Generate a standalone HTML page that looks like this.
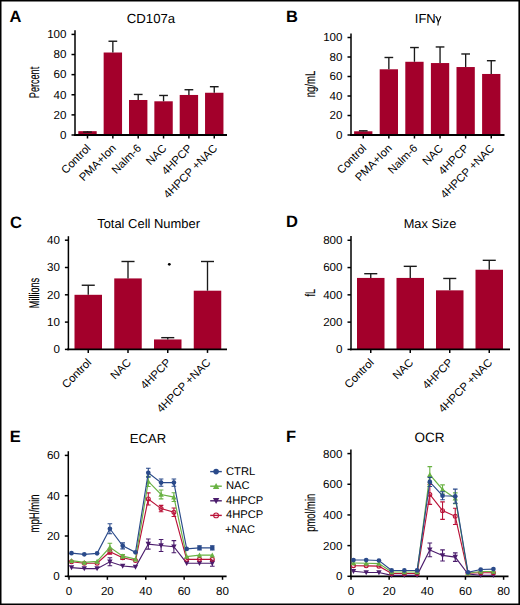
<!DOCTYPE html>
<html><head><meta charset="utf-8"><style>
html,body{margin:0;padding:0;background:#fff;}
body{width:520px;height:605px;position:relative;overflow:hidden;font-family:"Liberation Sans", sans-serif;}
svg text{font-family:"Liberation Sans", sans-serif;fill:#000;text-rendering:geometricPrecision;}
</style></head><body>
<svg width="520" height="605" viewBox="0 0 520 605" style="position:absolute;left:0;top:0">
<rect x="0" y="0" width="520" height="605" fill="#fff"/>
<text x="9.5" y="22.0" font-size="16.5" text-anchor="start" font-weight="bold" >A</text>
<text x="151" y="22.6" font-size="13.2" text-anchor="middle" font-weight="normal" >CD107a</text>
<line x1="75" y1="30.2" x2="75" y2="135.8" stroke="#000" stroke-width="1.5" />
<line x1="71.5" y1="135.0" x2="75" y2="135.0" stroke="#000" stroke-width="1.5" />
<text x="66.5" y="138.75" font-size="11.6" text-anchor="end" font-weight="normal" >0</text>
<line x1="71.5" y1="114.88" x2="75" y2="114.88" stroke="#000" stroke-width="1.5" />
<text x="66.5" y="118.63" font-size="11.6" text-anchor="end" font-weight="normal" >20</text>
<line x1="71.5" y1="94.75999999999999" x2="75" y2="94.75999999999999" stroke="#000" stroke-width="1.5" />
<text x="66.5" y="98.50999999999999" font-size="11.6" text-anchor="end" font-weight="normal" >40</text>
<line x1="71.5" y1="74.64" x2="75" y2="74.64" stroke="#000" stroke-width="1.5" />
<text x="66.5" y="78.39" font-size="11.6" text-anchor="end" font-weight="normal" >60</text>
<line x1="71.5" y1="54.519999999999996" x2="75" y2="54.519999999999996" stroke="#000" stroke-width="1.5" />
<text x="66.5" y="58.269999999999996" font-size="11.6" text-anchor="end" font-weight="normal" >80</text>
<line x1="71.5" y1="34.400000000000006" x2="75" y2="34.400000000000006" stroke="#000" stroke-width="1.5" />
<text x="66.5" y="38.150000000000006" font-size="11.6" text-anchor="end" font-weight="normal" >100</text>
<text transform="translate(39.3,82.5) rotate(-90) scale(0.65,1)" font-size="14" text-anchor="middle" stroke="#000" stroke-width="0.15">Percent</text>
<rect x="78.30" y="131.18" width="18.40" height="3.82" fill="#A3002B"/>
<line x1="87.5" y1="132.0826" x2="87.5" y2="131.1772" stroke="#1a1a1a" stroke-width="1.35" />
<line x1="83.13" y1="132.0826" x2="91.87" y2="132.0826" stroke="#1a1a1a" stroke-width="1.4" />
<rect x="103.65" y="52.51" width="18.40" height="82.49" fill="#A3002B"/>
<line x1="112.85" y1="41.24079999999999" x2="112.85" y2="52.507999999999996" stroke="#1a1a1a" stroke-width="1.35" />
<line x1="108.47999999999999" y1="41.24079999999999" x2="117.22" y2="41.24079999999999" stroke="#1a1a1a" stroke-width="1.4" />
<rect x="129.00" y="99.99" width="18.40" height="35.01" fill="#A3002B"/>
<line x1="138.2" y1="94.4582" x2="138.2" y2="99.99119999999999" stroke="#1a1a1a" stroke-width="1.35" />
<line x1="133.82999999999998" y1="94.4582" x2="142.57" y2="94.4582" stroke="#1a1a1a" stroke-width="1.4" />
<rect x="154.35" y="101.30" width="18.40" height="33.70" fill="#A3002B"/>
<line x1="163.55" y1="95.4642" x2="163.55" y2="101.299" stroke="#1a1a1a" stroke-width="1.35" />
<line x1="159.18" y1="95.4642" x2="167.92000000000002" y2="95.4642" stroke="#1a1a1a" stroke-width="1.4" />
<rect x="179.70" y="94.96" width="18.40" height="40.04" fill="#A3002B"/>
<line x1="188.9" y1="89.72999999999999" x2="188.9" y2="94.9612" stroke="#1a1a1a" stroke-width="1.35" />
<line x1="184.53" y1="89.72999999999999" x2="193.27" y2="89.72999999999999" stroke="#1a1a1a" stroke-width="1.4" />
<rect x="205.05" y="92.75" width="18.40" height="42.25" fill="#A3002B"/>
<line x1="214.25" y1="86.712" x2="214.25" y2="92.74799999999999" stroke="#1a1a1a" stroke-width="1.35" />
<line x1="209.88" y1="86.712" x2="218.62" y2="86.712" stroke="#1a1a1a" stroke-width="1.4" />
<line x1="74" y1="135.0" x2="227" y2="135.0" stroke="#000" stroke-width="1.8" />
<line x1="87.5" y1="135.0" x2="87.5" y2="138.5" stroke="#000" stroke-width="1.5" />
<text transform="translate(86.20,143.80) rotate(-45)" font-size="11.25" text-anchor="end" dominant-baseline="hanging">Control</text>
<line x1="112.85" y1="135.0" x2="112.85" y2="138.5" stroke="#000" stroke-width="1.5" />
<text transform="translate(111.55,143.80) rotate(-45)" font-size="11.25" text-anchor="end" dominant-baseline="hanging">PMA+Ion</text>
<line x1="138.2" y1="135.0" x2="138.2" y2="138.5" stroke="#000" stroke-width="1.5" />
<text transform="translate(136.90,143.80) rotate(-45)" font-size="11.25" text-anchor="end" dominant-baseline="hanging">Nalm-6</text>
<line x1="163.55" y1="135.0" x2="163.55" y2="138.5" stroke="#000" stroke-width="1.5" />
<text transform="translate(162.25,143.80) rotate(-45)" font-size="11.25" text-anchor="end" dominant-baseline="hanging">NAC</text>
<line x1="188.9" y1="135.0" x2="188.9" y2="138.5" stroke="#000" stroke-width="1.5" />
<text transform="translate(187.60,143.80) rotate(-45)" font-size="11.25" text-anchor="end" dominant-baseline="hanging">4HPCP</text>
<line x1="214.25" y1="135.0" x2="214.25" y2="138.5" stroke="#000" stroke-width="1.5" />
<text transform="translate(212.95,143.80) rotate(-45)" font-size="11.25" text-anchor="end" dominant-baseline="hanging">4HPCP +NAC</text>
<text x="286" y="21.9" font-size="16.5" text-anchor="start" font-weight="bold" >B</text>
<text x="414.8" y="22.6" font-size="13.0" text-anchor="start" font-weight="normal" >IFN</text>
<path d="M435.4,16.7C436.2,16.4 436.8,17.4 437.3,19L438.3,22.2M440.9,16.3L438.3,22.2L437.9,25.5" stroke="#000" stroke-width="1.05" fill="none"/>
<line x1="351" y1="33.5" x2="351" y2="135.8" stroke="#000" stroke-width="1.5" />
<line x1="347.5" y1="135.0" x2="351" y2="135.0" stroke="#000" stroke-width="1.5" />
<text x="342.5" y="138.75" font-size="11.6" text-anchor="end" font-weight="normal" >0</text>
<line x1="347.5" y1="115.5" x2="351" y2="115.5" stroke="#000" stroke-width="1.5" />
<text x="342.5" y="119.25" font-size="11.6" text-anchor="end" font-weight="normal" >20</text>
<line x1="347.5" y1="96.0" x2="351" y2="96.0" stroke="#000" stroke-width="1.5" />
<text x="342.5" y="99.75" font-size="11.6" text-anchor="end" font-weight="normal" >40</text>
<line x1="347.5" y1="76.5" x2="351" y2="76.5" stroke="#000" stroke-width="1.5" />
<text x="342.5" y="80.25" font-size="11.6" text-anchor="end" font-weight="normal" >60</text>
<line x1="347.5" y1="57.0" x2="351" y2="57.0" stroke="#000" stroke-width="1.5" />
<text x="342.5" y="60.75" font-size="11.6" text-anchor="end" font-weight="normal" >80</text>
<line x1="347.5" y1="37.5" x2="351" y2="37.5" stroke="#000" stroke-width="1.5" />
<text x="342.5" y="41.25" font-size="11.6" text-anchor="end" font-weight="normal" >100</text>
<text transform="translate(315.3,84) rotate(-90) scale(0.686,1)" font-size="14" text-anchor="middle" stroke="#000" stroke-width="0.15">ng/mL</text>
<rect x="354.10" y="131.29" width="18.30" height="3.71" fill="#A3002B"/>
<line x1="363.25" y1="130.8075" x2="363.25" y2="131.295" stroke="#1a1a1a" stroke-width="1.35" />
<line x1="358.90375" y1="130.8075" x2="367.59625" y2="130.8075" stroke="#1a1a1a" stroke-width="1.4" />
<rect x="379.70" y="69.28" width="18.30" height="65.72" fill="#A3002B"/>
<line x1="388.85" y1="57.4875" x2="388.85" y2="69.285" stroke="#1a1a1a" stroke-width="1.35" />
<line x1="384.50375" y1="57.4875" x2="393.19625" y2="57.4875" stroke="#1a1a1a" stroke-width="1.4" />
<rect x="405.30" y="61.78" width="18.30" height="73.22" fill="#A3002B"/>
<line x1="414.45" y1="47.542500000000004" x2="414.45" y2="61.7775" stroke="#1a1a1a" stroke-width="1.35" />
<line x1="410.10375" y1="47.542500000000004" x2="418.79625" y2="47.542500000000004" stroke="#1a1a1a" stroke-width="1.4" />
<rect x="430.90" y="63.05" width="18.30" height="71.95" fill="#A3002B"/>
<line x1="440.05" y1="46.95750000000001" x2="440.05" y2="63.045" stroke="#1a1a1a" stroke-width="1.35" />
<line x1="435.70375" y1="46.95750000000001" x2="444.39625" y2="46.95750000000001" stroke="#1a1a1a" stroke-width="1.4" />
<rect x="456.50" y="67.04" width="18.30" height="67.96" fill="#A3002B"/>
<line x1="465.65" y1="53.977500000000006" x2="465.65" y2="67.0425" stroke="#1a1a1a" stroke-width="1.35" />
<line x1="461.30375" y1="53.977500000000006" x2="469.99625" y2="53.977500000000006" stroke="#1a1a1a" stroke-width="1.4" />
<rect x="482.10" y="73.97" width="18.30" height="61.03" fill="#A3002B"/>
<line x1="491.25" y1="60.705" x2="491.25" y2="73.965" stroke="#1a1a1a" stroke-width="1.35" />
<line x1="486.90375" y1="60.705" x2="495.59625" y2="60.705" stroke="#1a1a1a" stroke-width="1.4" />
<line x1="350" y1="135.0" x2="504.5" y2="135.0" stroke="#000" stroke-width="1.8" />
<line x1="363.25" y1="135.0" x2="363.25" y2="138.5" stroke="#000" stroke-width="1.5" />
<text transform="translate(361.95,143.80) rotate(-45)" font-size="11.25" text-anchor="end" dominant-baseline="hanging">Control</text>
<line x1="388.85" y1="135.0" x2="388.85" y2="138.5" stroke="#000" stroke-width="1.5" />
<text transform="translate(387.55,143.80) rotate(-45)" font-size="11.25" text-anchor="end" dominant-baseline="hanging">PMA+Ion</text>
<line x1="414.45" y1="135.0" x2="414.45" y2="138.5" stroke="#000" stroke-width="1.5" />
<text transform="translate(413.15,143.80) rotate(-45)" font-size="11.25" text-anchor="end" dominant-baseline="hanging">Nalm-6</text>
<line x1="440.05" y1="135.0" x2="440.05" y2="138.5" stroke="#000" stroke-width="1.5" />
<text transform="translate(438.75,143.80) rotate(-45)" font-size="11.25" text-anchor="end" dominant-baseline="hanging">NAC</text>
<line x1="465.65" y1="135.0" x2="465.65" y2="138.5" stroke="#000" stroke-width="1.5" />
<text transform="translate(464.35,143.80) rotate(-45)" font-size="11.25" text-anchor="end" dominant-baseline="hanging">4HPCP</text>
<line x1="491.25" y1="135.0" x2="491.25" y2="138.5" stroke="#000" stroke-width="1.5" />
<text transform="translate(489.95,143.80) rotate(-45)" font-size="11.25" text-anchor="end" dominant-baseline="hanging">4HPCP +NAC</text>
<text x="10" y="228.0" font-size="16.5" text-anchor="start" font-weight="bold" >C</text>
<text x="148.6" y="228.2" font-size="12.95" text-anchor="middle" font-weight="normal" >Total Cell Number</text>
<line x1="68.4" y1="236.2" x2="68.4" y2="350.2" stroke="#000" stroke-width="1.5" />
<line x1="64.9" y1="349.4" x2="68.4" y2="349.4" stroke="#000" stroke-width="1.5" />
<text x="59.900000000000006" y="353.15" font-size="11.6" text-anchor="end" font-weight="normal" >0</text>
<line x1="64.9" y1="322.09999999999997" x2="68.4" y2="322.09999999999997" stroke="#000" stroke-width="1.5" />
<text x="59.900000000000006" y="325.84999999999997" font-size="11.6" text-anchor="end" font-weight="normal" >10</text>
<line x1="64.9" y1="294.79999999999995" x2="68.4" y2="294.79999999999995" stroke="#000" stroke-width="1.5" />
<text x="59.900000000000006" y="298.54999999999995" font-size="11.6" text-anchor="end" font-weight="normal" >20</text>
<line x1="64.9" y1="267.5" x2="68.4" y2="267.5" stroke="#000" stroke-width="1.5" />
<text x="59.900000000000006" y="271.25" font-size="11.6" text-anchor="end" font-weight="normal" >30</text>
<line x1="64.9" y1="240.2" x2="68.4" y2="240.2" stroke="#000" stroke-width="1.5" />
<text x="59.900000000000006" y="243.95" font-size="11.6" text-anchor="end" font-weight="normal" >40</text>
<text transform="translate(39.3,293) rotate(-90) scale(0.65,1)" font-size="14" text-anchor="middle" stroke="#000" stroke-width="0.15">Millions</text>
<rect x="74.50" y="294.80" width="27.50" height="54.60" fill="#A3002B"/>
<line x1="88.25" y1="285.245" x2="88.25" y2="294.79999999999995" stroke="#1a1a1a" stroke-width="1.35" />
<line x1="81.71875" y1="285.245" x2="94.78125" y2="285.245" stroke="#1a1a1a" stroke-width="1.4" />
<rect x="114.25" y="278.42" width="27.50" height="70.98" fill="#A3002B"/>
<line x1="128.0" y1="261.49399999999997" x2="128.0" y2="278.41999999999996" stroke="#1a1a1a" stroke-width="1.35" />
<line x1="121.46875" y1="261.49399999999997" x2="134.53125" y2="261.49399999999997" stroke="#1a1a1a" stroke-width="1.4" />
<rect x="154.00" y="339.44" width="27.50" height="9.96" fill="#A3002B"/>
<line x1="167.75" y1="337.661" x2="167.75" y2="339.4355" stroke="#1a1a1a" stroke-width="1.35" />
<line x1="161.21875" y1="337.661" x2="174.28125" y2="337.661" stroke="#1a1a1a" stroke-width="1.4" />
<rect x="193.75" y="290.70" width="27.50" height="58.69" fill="#A3002B"/>
<line x1="207.5" y1="261.49399999999997" x2="207.5" y2="290.705" stroke="#1a1a1a" stroke-width="1.35" />
<line x1="200.96875" y1="261.49399999999997" x2="214.03125" y2="261.49399999999997" stroke="#1a1a1a" stroke-width="1.4" />
<line x1="67" y1="349.4" x2="227" y2="349.4" stroke="#000" stroke-width="1.8" />
<line x1="88.25" y1="349.4" x2="88.25" y2="352.9" stroke="#000" stroke-width="1.5" />
<text transform="translate(86.95,358.20) rotate(-45)" font-size="11.25" text-anchor="end" dominant-baseline="hanging">Control</text>
<line x1="128.0" y1="349.4" x2="128.0" y2="352.9" stroke="#000" stroke-width="1.5" />
<text transform="translate(126.70,358.20) rotate(-45)" font-size="11.25" text-anchor="end" dominant-baseline="hanging">NAC</text>
<line x1="167.75" y1="349.4" x2="167.75" y2="352.9" stroke="#000" stroke-width="1.5" />
<text transform="translate(166.45,358.20) rotate(-45)" font-size="11.25" text-anchor="end" dominant-baseline="hanging">4HPCP</text>
<line x1="207.5" y1="349.4" x2="207.5" y2="352.9" stroke="#000" stroke-width="1.5" />
<text transform="translate(206.20,358.20) rotate(-45)" font-size="11.25" text-anchor="end" dominant-baseline="hanging">4HPCP +NAC</text>
<circle cx="169.3" cy="264.3" r="1.4" fill="#000"/>
<text x="286" y="227.4" font-size="16.5" text-anchor="start" font-weight="bold" >D</text>
<text x="430" y="228.2" font-size="12.8" text-anchor="middle" font-weight="normal" >Max Size</text>
<line x1="351" y1="236" x2="351" y2="350.2" stroke="#000" stroke-width="1.5" />
<line x1="347.5" y1="349.4" x2="351" y2="349.4" stroke="#000" stroke-width="1.5" />
<text x="342.5" y="353.15" font-size="11.6" text-anchor="end" font-weight="normal" >0</text>
<line x1="347.5" y1="322.12" x2="351" y2="322.12" stroke="#000" stroke-width="1.5" />
<text x="342.5" y="325.87" font-size="11.6" text-anchor="end" font-weight="normal" >200</text>
<line x1="347.5" y1="294.84" x2="351" y2="294.84" stroke="#000" stroke-width="1.5" />
<text x="342.5" y="298.59" font-size="11.6" text-anchor="end" font-weight="normal" >400</text>
<line x1="347.5" y1="267.56" x2="351" y2="267.56" stroke="#000" stroke-width="1.5" />
<text x="342.5" y="271.31" font-size="11.6" text-anchor="end" font-weight="normal" >600</text>
<line x1="347.5" y1="240.27999999999997" x2="351" y2="240.27999999999997" stroke="#000" stroke-width="1.5" />
<text x="342.5" y="244.02999999999997" font-size="11.6" text-anchor="end" font-weight="normal" >800</text>
<text transform="translate(314.9,292.8) rotate(-90) scale(0.64,1)" font-size="14" text-anchor="middle" stroke="#000" stroke-width="0.15">fL</text>
<rect x="357.00" y="277.93" width="27.50" height="71.47" fill="#A3002B"/>
<line x1="370.75" y1="273.698" x2="370.75" y2="277.9264" stroke="#1a1a1a" stroke-width="1.35" />
<line x1="364.21875" y1="273.698" x2="377.28125" y2="273.698" stroke="#1a1a1a" stroke-width="1.4" />
<rect x="396.50" y="277.93" width="27.50" height="71.47" fill="#A3002B"/>
<line x1="410.25" y1="266.3324" x2="410.25" y2="277.9264" stroke="#1a1a1a" stroke-width="1.35" />
<line x1="403.71875" y1="266.3324" x2="416.78125" y2="266.3324" stroke="#1a1a1a" stroke-width="1.4" />
<rect x="436.00" y="290.34" width="27.50" height="59.06" fill="#A3002B"/>
<line x1="449.75" y1="278.472" x2="449.75" y2="290.3388" stroke="#1a1a1a" stroke-width="1.35" />
<line x1="443.21875" y1="278.472" x2="456.28125" y2="278.472" stroke="#1a1a1a" stroke-width="1.4" />
<rect x="475.50" y="269.74" width="27.50" height="79.66" fill="#A3002B"/>
<line x1="489.25" y1="260.33079999999995" x2="489.25" y2="269.7424" stroke="#1a1a1a" stroke-width="1.35" />
<line x1="482.71875" y1="260.33079999999995" x2="495.78125" y2="260.33079999999995" stroke="#1a1a1a" stroke-width="1.4" />
<line x1="350" y1="349.4" x2="510" y2="349.4" stroke="#000" stroke-width="1.8" />
<line x1="370.75" y1="349.4" x2="370.75" y2="352.9" stroke="#000" stroke-width="1.5" />
<text transform="translate(369.45,358.20) rotate(-45)" font-size="11.25" text-anchor="end" dominant-baseline="hanging">Control</text>
<line x1="410.25" y1="349.4" x2="410.25" y2="352.9" stroke="#000" stroke-width="1.5" />
<text transform="translate(408.95,358.20) rotate(-45)" font-size="11.25" text-anchor="end" dominant-baseline="hanging">NAC</text>
<line x1="449.75" y1="349.4" x2="449.75" y2="352.9" stroke="#000" stroke-width="1.5" />
<text transform="translate(448.45,358.20) rotate(-45)" font-size="11.25" text-anchor="end" dominant-baseline="hanging">4HPCP</text>
<line x1="489.25" y1="349.4" x2="489.25" y2="352.9" stroke="#000" stroke-width="1.5" />
<text transform="translate(487.95,358.20) rotate(-45)" font-size="11.25" text-anchor="end" dominant-baseline="hanging">4HPCP +NAC</text>
<text x="9.8" y="442.1" font-size="16.5" text-anchor="start" font-weight="bold" >E</text>
<text x="148" y="442.8" font-size="13.1" text-anchor="middle" font-weight="normal" >ECAR</text>
<text transform="translate(39.1,513.4) rotate(-90) scale(0.68,1)" font-size="14" text-anchor="middle" stroke="#000" stroke-width="0.15">mpH/min</text>
<line x1="68.3" y1="451.2" x2="68.3" y2="577.0999999999999" stroke="#000" stroke-width="1.5" />
<line x1="64.8" y1="576.3" x2="68.3" y2="576.3" stroke="#000" stroke-width="1.5" />
<text x="59.8" y="580.3" font-size="11.6" text-anchor="end" font-weight="normal" >0</text>
<line x1="64.8" y1="536.0" x2="68.3" y2="536.0" stroke="#000" stroke-width="1.5" />
<text x="59.8" y="540.0" font-size="11.6" text-anchor="end" font-weight="normal" >20</text>
<line x1="64.8" y1="495.69999999999993" x2="68.3" y2="495.69999999999993" stroke="#000" stroke-width="1.5" />
<text x="59.8" y="499.69999999999993" font-size="11.6" text-anchor="end" font-weight="normal" >40</text>
<line x1="64.8" y1="455.4" x2="68.3" y2="455.4" stroke="#000" stroke-width="1.5" />
<text x="59.8" y="459.4" font-size="11.6" text-anchor="end" font-weight="normal" >60</text>
<line x1="67.3" y1="576.3" x2="226.6" y2="576.3" stroke="#000" stroke-width="1.8" />
<line x1="69.0" y1="576.3" x2="69.0" y2="579.8" stroke="#000" stroke-width="1.5" />
<text x="69.0" y="594.9" font-size="11.6" text-anchor="middle" font-weight="normal" >0</text>
<line x1="107.38" y1="576.3" x2="107.38" y2="579.8" stroke="#000" stroke-width="1.5" />
<text x="107.38" y="594.9" font-size="11.6" text-anchor="middle" font-weight="normal" >20</text>
<line x1="145.76" y1="576.3" x2="145.76" y2="579.8" stroke="#000" stroke-width="1.5" />
<text x="145.76" y="594.9" font-size="11.6" text-anchor="middle" font-weight="normal" >40</text>
<line x1="184.14" y1="576.3" x2="184.14" y2="579.8" stroke="#000" stroke-width="1.5" />
<text x="184.14" y="594.9" font-size="11.6" text-anchor="middle" font-weight="normal" >60</text>
<line x1="222.52" y1="576.3" x2="222.52" y2="579.8" stroke="#000" stroke-width="1.5" />
<text x="222.52" y="594.9" font-size="11.6" text-anchor="middle" font-weight="normal" >80</text>
<polyline points="71.49,567.64 84.29,568.64 97.09,568.64 109.89,561.79 122.69,566.02 135.49,567.03 148.29,544.06 161.09,545.47 173.89,546.68 186.69,563.20 199.49,563.20 212.29,563.20" fill="none" stroke="#4B1C6C" stroke-width="1.15"/>
<path d="M109.89,557.76V565.82M107.59,557.76H112.19M107.59,565.82H112.19" stroke="#4B1C6C" stroke-width="1.1" fill="none"/>
<path d="M148.29,539.02V549.10M145.99,539.02H150.59M145.99,549.10H150.59" stroke="#4B1C6C" stroke-width="1.1" fill="none"/>
<path d="M161.09,539.43V551.52M158.79,539.43H163.39M158.79,551.52H163.39" stroke="#4B1C6C" stroke-width="1.1" fill="none"/>
<path d="M173.89,540.63V552.72M171.59,540.63H176.19M171.59,552.72H176.19" stroke="#4B1C6C" stroke-width="1.1" fill="none"/>
<path d="M212.29,560.18V566.23M209.99,560.18H214.59M209.99,566.23H214.59" stroke="#4B1C6C" stroke-width="1.1" fill="none"/>
<path d="M71.49,570.34L74.20,565.34L68.79,565.34Z" fill="#4B1C6C"/>
<path d="M84.29,571.35L87.00,566.35L81.59,566.35Z" fill="#4B1C6C"/>
<path d="M97.09,571.35L99.80,566.35L94.39,566.35Z" fill="#4B1C6C"/>
<path d="M109.89,564.49L112.60,559.49L107.19,559.49Z" fill="#4B1C6C"/>
<path d="M122.69,568.73L125.40,563.73L119.99,563.73Z" fill="#4B1C6C"/>
<path d="M135.49,569.73L138.20,564.73L132.79,564.73Z" fill="#4B1C6C"/>
<path d="M148.29,546.76L151.00,541.76L145.59,541.76Z" fill="#4B1C6C"/>
<path d="M161.09,548.17L163.80,543.17L158.39,543.17Z" fill="#4B1C6C"/>
<path d="M173.89,549.38L176.60,544.38L171.19,544.38Z" fill="#4B1C6C"/>
<path d="M186.69,565.90L189.39,560.91L183.99,560.91Z" fill="#4B1C6C"/>
<path d="M199.49,565.90L202.19,560.91L196.79,560.91Z" fill="#4B1C6C"/>
<path d="M212.29,565.90L214.99,560.91L209.59,560.91Z" fill="#4B1C6C"/>
<polyline points="71.49,561.79 84.29,563.20 97.09,563.20 109.89,551.72 122.69,557.76 135.49,560.58 148.29,498.92 161.09,508.60 173.89,512.22 186.69,559.37 199.49,559.37 212.29,559.37" fill="none" stroke="#BA1238" stroke-width="1.15"/>
<path d="M109.89,549.30V554.13M107.59,549.30H112.19M107.59,554.13H112.19" stroke="#BA1238" stroke-width="1.1" fill="none"/>
<path d="M122.69,556.15V559.37M120.39,556.15H124.99M120.39,559.37H124.99" stroke="#BA1238" stroke-width="1.1" fill="none"/>
<path d="M148.29,492.88V504.97M145.99,492.88H150.59M145.99,504.97H150.59" stroke="#BA1238" stroke-width="1.1" fill="none"/>
<path d="M161.09,505.37V511.82M158.79,505.37H163.39M158.79,511.82H163.39" stroke="#BA1238" stroke-width="1.1" fill="none"/>
<path d="M173.89,507.99V516.45M171.59,507.99H176.19M171.59,516.45H176.19" stroke="#BA1238" stroke-width="1.1" fill="none"/>
<circle cx="71.49" cy="561.79" r="1.9500000000000002" fill="none" stroke="#BA1238" stroke-width="1.1"/>
<circle cx="84.29" cy="563.20" r="1.9500000000000002" fill="none" stroke="#BA1238" stroke-width="1.1"/>
<circle cx="97.09" cy="563.20" r="1.9500000000000002" fill="none" stroke="#BA1238" stroke-width="1.1"/>
<circle cx="109.89" cy="551.72" r="1.9500000000000002" fill="none" stroke="#BA1238" stroke-width="1.1"/>
<circle cx="122.69" cy="557.76" r="1.9500000000000002" fill="none" stroke="#BA1238" stroke-width="1.1"/>
<circle cx="135.49" cy="560.58" r="1.9500000000000002" fill="none" stroke="#BA1238" stroke-width="1.1"/>
<circle cx="148.29" cy="498.92" r="1.9500000000000002" fill="none" stroke="#BA1238" stroke-width="1.1"/>
<circle cx="161.09" cy="508.60" r="1.9500000000000002" fill="none" stroke="#BA1238" stroke-width="1.1"/>
<circle cx="173.89" cy="512.22" r="1.9500000000000002" fill="none" stroke="#BA1238" stroke-width="1.1"/>
<circle cx="186.69" cy="559.37" r="1.9500000000000002" fill="none" stroke="#BA1238" stroke-width="1.1"/>
<circle cx="199.49" cy="559.37" r="1.9500000000000002" fill="none" stroke="#BA1238" stroke-width="1.1"/>
<circle cx="212.29" cy="559.37" r="1.9500000000000002" fill="none" stroke="#BA1238" stroke-width="1.1"/>
<polyline points="71.49,560.58 84.29,562.40 97.09,561.39 109.89,547.28 122.69,556.15 135.49,559.17 148.29,481.39 161.09,494.49 173.89,497.11 186.69,556.55 199.49,555.14 212.29,555.14" fill="none" stroke="#69B243" stroke-width="1.15"/>
<path d="M109.89,543.25V551.31M107.59,543.25H112.19M107.59,551.31H112.19" stroke="#69B243" stroke-width="1.1" fill="none"/>
<path d="M122.69,554.54V557.76M120.39,554.54H124.99M120.39,557.76H124.99" stroke="#69B243" stroke-width="1.1" fill="none"/>
<path d="M148.29,476.36V486.43M145.99,476.36H150.59M145.99,486.43H150.59" stroke="#69B243" stroke-width="1.1" fill="none"/>
<path d="M161.09,490.06V498.92M158.79,490.06H163.39M158.79,498.92H163.39" stroke="#69B243" stroke-width="1.1" fill="none"/>
<path d="M173.89,492.68V501.54M171.59,492.68H176.19M171.59,501.54H176.19" stroke="#69B243" stroke-width="1.1" fill="none"/>
<path d="M71.49,557.88L74.20,562.88L68.79,562.88Z" fill="#69B243"/>
<path d="M84.29,559.69L87.00,564.69L81.59,564.69Z" fill="#69B243"/>
<path d="M97.09,558.69L99.80,563.69L94.39,563.69Z" fill="#69B243"/>
<path d="M109.89,544.58L112.60,549.58L107.19,549.58Z" fill="#69B243"/>
<path d="M122.69,553.45L125.40,558.45L119.99,558.45Z" fill="#69B243"/>
<path d="M135.49,556.47L138.20,561.47L132.79,561.47Z" fill="#69B243"/>
<path d="M148.29,478.69L151.00,483.69L145.59,483.69Z" fill="#69B243"/>
<path d="M161.09,491.79L163.80,496.79L158.39,496.79Z" fill="#69B243"/>
<path d="M173.89,494.41L176.60,499.41L171.19,499.41Z" fill="#69B243"/>
<path d="M186.69,553.85L189.39,558.85L183.99,558.85Z" fill="#69B243"/>
<path d="M199.49,552.44L202.19,557.44L196.79,557.44Z" fill="#69B243"/>
<path d="M212.29,552.44L214.99,557.44L209.59,557.44Z" fill="#69B243"/>
<polyline points="71.49,553.13 84.29,554.34 97.09,553.33 109.89,528.75 122.69,545.87 135.49,552.32 148.29,472.73 161.09,482.60 173.89,482.60 186.69,548.90 199.49,547.89 212.29,547.89" fill="none" stroke="#2A4A8A" stroke-width="1.15"/>
<path d="M109.89,523.71V533.78M107.59,523.71H112.19M107.59,533.78H112.19" stroke="#2A4A8A" stroke-width="1.1" fill="none"/>
<path d="M122.69,542.85V548.90M120.39,542.85H124.99M120.39,548.90H124.99" stroke="#2A4A8A" stroke-width="1.1" fill="none"/>
<path d="M148.29,468.30V477.16M145.99,468.30H150.59M145.99,477.16H150.59" stroke="#2A4A8A" stroke-width="1.1" fill="none"/>
<path d="M161.09,478.98V486.23M158.79,478.98H163.39M158.79,486.23H163.39" stroke="#2A4A8A" stroke-width="1.1" fill="none"/>
<path d="M173.89,478.98V486.23M171.59,478.98H176.19M171.59,486.23H176.19" stroke="#2A4A8A" stroke-width="1.1" fill="none"/>
<path d="M199.49,545.87V549.90M197.19,545.87H201.79M197.19,549.90H201.79" stroke="#2A4A8A" stroke-width="1.1" fill="none"/>
<path d="M212.29,545.87V549.90M209.99,545.87H214.59M209.99,549.90H214.59" stroke="#2A4A8A" stroke-width="1.1" fill="none"/>
<circle cx="71.49" cy="553.13" r="2.35" fill="#2A4A8A"/>
<circle cx="84.29" cy="554.34" r="2.35" fill="#2A4A8A"/>
<circle cx="97.09" cy="553.33" r="2.35" fill="#2A4A8A"/>
<circle cx="109.89" cy="528.75" r="2.35" fill="#2A4A8A"/>
<circle cx="122.69" cy="545.87" r="2.35" fill="#2A4A8A"/>
<circle cx="135.49" cy="552.32" r="2.35" fill="#2A4A8A"/>
<circle cx="148.29" cy="472.73" r="2.35" fill="#2A4A8A"/>
<circle cx="161.09" cy="482.60" r="2.35" fill="#2A4A8A"/>
<circle cx="173.89" cy="482.60" r="2.35" fill="#2A4A8A"/>
<circle cx="186.69" cy="548.90" r="2.35" fill="#2A4A8A"/>
<circle cx="199.49" cy="547.89" r="2.35" fill="#2A4A8A"/>
<circle cx="212.29" cy="547.89" r="2.35" fill="#2A4A8A"/>
<line x1="210.2" y1="471.6" x2="221.8" y2="471.6" stroke="#2A4A8A" stroke-width="1.4" />
<circle cx="216.10" cy="471.60" r="2.8" fill="#2A4A8A"/>
<text x="226" y="474.5" font-size="11.2" text-anchor="start" font-weight="normal" >CTRL</text>
<line x1="210.2" y1="486.20000000000005" x2="221.8" y2="486.20000000000005" stroke="#69B243" stroke-width="1.4" />
<path d="M216.10,482.98L219.32,488.94L212.88,488.94Z" fill="#69B243"/>
<text x="226" y="489.1" font-size="11.2" text-anchor="start" font-weight="normal" >NAC</text>
<line x1="210.2" y1="500.8" x2="221.8" y2="500.8" stroke="#4B1C6C" stroke-width="1.4" />
<path d="M216.10,504.02L219.32,498.06L212.88,498.06Z" fill="#4B1C6C"/>
<text x="226" y="503.7" font-size="11.2" text-anchor="start" font-weight="normal" >4HPCP</text>
<line x1="210.2" y1="515.4" x2="221.8" y2="515.4" stroke="#BA1238" stroke-width="1.4" />
<circle cx="216.10" cy="515.40" r="2.4" fill="none" stroke="#BA1238" stroke-width="1.1"/>
<text x="226" y="518.3" font-size="11.2" text-anchor="start" font-weight="normal" >4HPCP</text>
<text x="225" y="533.1" font-size="11.2" text-anchor="start" font-weight="normal" >+NAC</text>
<text x="286" y="442.1" font-size="16.5" text-anchor="start" font-weight="bold" >F</text>
<text x="429.5" y="441.5" font-size="13.5" text-anchor="middle" font-weight="normal" >OCR</text>
<text transform="translate(314.8,512.8) rotate(-90) scale(0.67,1)" font-size="14" text-anchor="middle" stroke="#000" stroke-width="0.15">pmol/min</text>
<line x1="350.9" y1="449.5" x2="350.9" y2="577.0999999999999" stroke="#000" stroke-width="1.5" />
<line x1="347.4" y1="576.3" x2="350.9" y2="576.3" stroke="#000" stroke-width="1.5" />
<text x="342.4" y="580.3" font-size="11.6" text-anchor="end" font-weight="normal" >0</text>
<line x1="347.4" y1="545.62" x2="350.9" y2="545.62" stroke="#000" stroke-width="1.5" />
<text x="342.4" y="549.62" font-size="11.6" text-anchor="end" font-weight="normal" >200</text>
<line x1="347.4" y1="514.9399999999999" x2="350.9" y2="514.9399999999999" stroke="#000" stroke-width="1.5" />
<text x="342.4" y="518.9399999999999" font-size="11.6" text-anchor="end" font-weight="normal" >400</text>
<line x1="347.4" y1="484.25999999999993" x2="350.9" y2="484.25999999999993" stroke="#000" stroke-width="1.5" />
<text x="342.4" y="488.25999999999993" font-size="11.6" text-anchor="end" font-weight="normal" >600</text>
<line x1="347.4" y1="453.5799999999999" x2="350.9" y2="453.5799999999999" stroke="#000" stroke-width="1.5" />
<text x="342.4" y="457.5799999999999" font-size="11.6" text-anchor="end" font-weight="normal" >800</text>
<line x1="349.9" y1="576.3" x2="508.5" y2="576.3" stroke="#000" stroke-width="1.8" />
<line x1="351.0" y1="576.3" x2="351.0" y2="579.8" stroke="#000" stroke-width="1.5" />
<text x="351.0" y="594.9" font-size="11.6" text-anchor="middle" font-weight="normal" >0</text>
<line x1="389.15" y1="576.3" x2="389.15" y2="579.8" stroke="#000" stroke-width="1.5" />
<text x="389.15" y="594.9" font-size="11.6" text-anchor="middle" font-weight="normal" >20</text>
<line x1="427.3" y1="576.3" x2="427.3" y2="579.8" stroke="#000" stroke-width="1.5" />
<text x="427.3" y="594.9" font-size="11.6" text-anchor="middle" font-weight="normal" >40</text>
<line x1="465.45" y1="576.3" x2="465.45" y2="579.8" stroke="#000" stroke-width="1.5" />
<text x="465.45" y="594.9" font-size="11.6" text-anchor="middle" font-weight="normal" >60</text>
<line x1="503.6" y1="576.3" x2="503.6" y2="579.8" stroke="#000" stroke-width="1.5" />
<text x="503.6" y="594.9" font-size="11.6" text-anchor="middle" font-weight="normal" >80</text>
<polyline points="353.48,571.24 366.20,572.46 378.93,572.46 391.65,575.38 404.37,575.38 417.09,575.38 429.82,549.92 442.54,555.44 455.26,557.12 467.99,574.00 480.71,575.23 493.43,575.23" fill="none" stroke="#4B1C6C" stroke-width="1.15"/>
<path d="M429.82,543.01V556.82M427.52,543.01H432.12M427.52,556.82H432.12" stroke="#4B1C6C" stroke-width="1.1" fill="none"/>
<path d="M442.54,549.92V560.96M440.24,549.92H444.84M440.24,560.96H444.84" stroke="#4B1C6C" stroke-width="1.1" fill="none"/>
<path d="M455.26,552.83V561.42M452.96,552.83H457.56M452.96,561.42H457.56" stroke="#4B1C6C" stroke-width="1.1" fill="none"/>
<path d="M353.48,573.94L356.18,568.94L350.78,568.94Z" fill="#4B1C6C"/>
<path d="M366.20,575.17L368.91,570.17L363.50,570.17Z" fill="#4B1C6C"/>
<path d="M378.93,575.17L381.63,570.17L376.22,570.17Z" fill="#4B1C6C"/>
<path d="M391.65,578.08L394.35,573.08L388.95,573.08Z" fill="#4B1C6C"/>
<path d="M404.37,578.08L407.07,573.08L401.67,573.08Z" fill="#4B1C6C"/>
<path d="M417.09,578.08L419.80,573.08L414.39,573.08Z" fill="#4B1C6C"/>
<path d="M429.82,552.62L432.52,547.62L427.12,547.62Z" fill="#4B1C6C"/>
<path d="M442.54,558.14L445.24,553.14L439.84,553.14Z" fill="#4B1C6C"/>
<path d="M455.26,559.83L457.97,554.83L452.56,554.83Z" fill="#4B1C6C"/>
<path d="M467.99,576.70L470.69,571.70L465.28,571.70Z" fill="#4B1C6C"/>
<path d="M480.71,577.93L483.41,572.93L478.01,572.93Z" fill="#4B1C6C"/>
<path d="M493.43,577.93L496.14,572.93L490.73,572.93Z" fill="#4B1C6C"/>
<polyline points="353.48,565.72 366.20,565.87 378.93,566.18 391.65,573.54 404.37,573.54 417.09,573.54 429.82,494.38 442.54,510.64 455.26,516.32 467.99,573.23 480.71,572.77 493.43,572.77" fill="none" stroke="#BA1238" stroke-width="1.15"/>
<path d="M429.82,484.41V504.36M427.52,484.41H432.12M427.52,504.36H432.12" stroke="#BA1238" stroke-width="1.1" fill="none"/>
<path d="M442.54,501.90V519.39M440.24,501.90H444.84M440.24,519.39H444.84" stroke="#BA1238" stroke-width="1.1" fill="none"/>
<path d="M455.26,508.19V524.45M452.96,508.19H457.56M452.96,524.45H457.56" stroke="#BA1238" stroke-width="1.1" fill="none"/>
<circle cx="353.48" cy="565.72" r="1.9500000000000002" fill="none" stroke="#BA1238" stroke-width="1.1"/>
<circle cx="366.20" cy="565.87" r="1.9500000000000002" fill="none" stroke="#BA1238" stroke-width="1.1"/>
<circle cx="378.93" cy="566.18" r="1.9500000000000002" fill="none" stroke="#BA1238" stroke-width="1.1"/>
<circle cx="391.65" cy="573.54" r="1.9500000000000002" fill="none" stroke="#BA1238" stroke-width="1.1"/>
<circle cx="404.37" cy="573.54" r="1.9500000000000002" fill="none" stroke="#BA1238" stroke-width="1.1"/>
<circle cx="417.09" cy="573.54" r="1.9500000000000002" fill="none" stroke="#BA1238" stroke-width="1.1"/>
<circle cx="429.82" cy="494.38" r="1.9500000000000002" fill="none" stroke="#BA1238" stroke-width="1.1"/>
<circle cx="442.54" cy="510.64" r="1.9500000000000002" fill="none" stroke="#BA1238" stroke-width="1.1"/>
<circle cx="455.26" cy="516.32" r="1.9500000000000002" fill="none" stroke="#BA1238" stroke-width="1.1"/>
<circle cx="467.99" cy="573.23" r="1.9500000000000002" fill="none" stroke="#BA1238" stroke-width="1.1"/>
<circle cx="480.71" cy="572.77" r="1.9500000000000002" fill="none" stroke="#BA1238" stroke-width="1.1"/>
<circle cx="493.43" cy="572.77" r="1.9500000000000002" fill="none" stroke="#BA1238" stroke-width="1.1"/>
<polyline points="353.48,562.95 366.20,563.26 378.93,563.57 391.65,572.00 404.37,572.00 417.09,572.00 429.82,474.60 442.54,489.48 455.26,498.22 467.99,573.23 480.71,571.54 493.43,571.54" fill="none" stroke="#69B243" stroke-width="1.15"/>
<path d="M429.82,466.62V482.57M427.52,466.62H432.12M427.52,482.57H432.12" stroke="#69B243" stroke-width="1.1" fill="none"/>
<path d="M442.54,484.87V494.08M440.24,484.87H444.84M440.24,494.08H444.84" stroke="#69B243" stroke-width="1.1" fill="none"/>
<path d="M455.26,492.85V503.59M452.96,492.85H457.56M452.96,503.59H457.56" stroke="#69B243" stroke-width="1.1" fill="none"/>
<path d="M353.48,560.25L356.18,565.25L350.78,565.25Z" fill="#69B243"/>
<path d="M366.20,560.56L368.91,565.56L363.50,565.56Z" fill="#69B243"/>
<path d="M378.93,560.87L381.63,565.86L376.22,565.86Z" fill="#69B243"/>
<path d="M391.65,569.30L394.35,574.30L388.95,574.30Z" fill="#69B243"/>
<path d="M404.37,569.30L407.07,574.30L401.67,574.30Z" fill="#69B243"/>
<path d="M417.09,569.30L419.80,574.30L414.39,574.30Z" fill="#69B243"/>
<path d="M429.82,471.89L432.52,476.89L427.12,476.89Z" fill="#69B243"/>
<path d="M442.54,486.77L445.24,491.77L439.84,491.77Z" fill="#69B243"/>
<path d="M455.26,495.52L457.97,500.52L452.56,500.52Z" fill="#69B243"/>
<path d="M467.99,570.53L470.69,575.53L465.28,575.53Z" fill="#69B243"/>
<path d="M480.71,568.84L483.41,573.84L478.01,573.84Z" fill="#69B243"/>
<path d="M493.43,568.84L496.14,573.84L490.73,573.84Z" fill="#69B243"/>
<polyline points="353.48,560.04 366.20,560.04 378.93,560.50 391.65,570.47 404.37,570.47 417.09,570.47 429.82,481.96 442.54,495.76 455.26,496.23 467.99,572.31 480.71,569.55 493.43,569.09" fill="none" stroke="#2A4A8A" stroke-width="1.15"/>
<path d="M429.82,477.36V486.56M427.52,477.36H432.12M427.52,486.56H432.12" stroke="#2A4A8A" stroke-width="1.1" fill="none"/>
<path d="M442.54,491.78V499.75M440.24,491.78H444.84M440.24,499.75H444.84" stroke="#2A4A8A" stroke-width="1.1" fill="none"/>
<path d="M455.26,489.17V503.28M452.96,489.17H457.56M452.96,503.28H457.56" stroke="#2A4A8A" stroke-width="1.1" fill="none"/>
<circle cx="353.48" cy="560.04" r="2.35" fill="#2A4A8A"/>
<circle cx="366.20" cy="560.04" r="2.35" fill="#2A4A8A"/>
<circle cx="378.93" cy="560.50" r="2.35" fill="#2A4A8A"/>
<circle cx="391.65" cy="570.47" r="2.35" fill="#2A4A8A"/>
<circle cx="404.37" cy="570.47" r="2.35" fill="#2A4A8A"/>
<circle cx="417.09" cy="570.47" r="2.35" fill="#2A4A8A"/>
<circle cx="429.82" cy="481.96" r="2.35" fill="#2A4A8A"/>
<circle cx="442.54" cy="495.76" r="2.35" fill="#2A4A8A"/>
<circle cx="455.26" cy="496.23" r="2.35" fill="#2A4A8A"/>
<circle cx="467.99" cy="572.31" r="2.35" fill="#2A4A8A"/>
<circle cx="480.71" cy="569.55" r="2.35" fill="#2A4A8A"/>
<circle cx="493.43" cy="569.09" r="2.35" fill="#2A4A8A"/>
<path d="M0,0H520V605H0Z M1.5,1.5V603.4H518.4V1.5Z" fill="#000" fill-rule="evenodd"/>
</svg>
</body></html>
